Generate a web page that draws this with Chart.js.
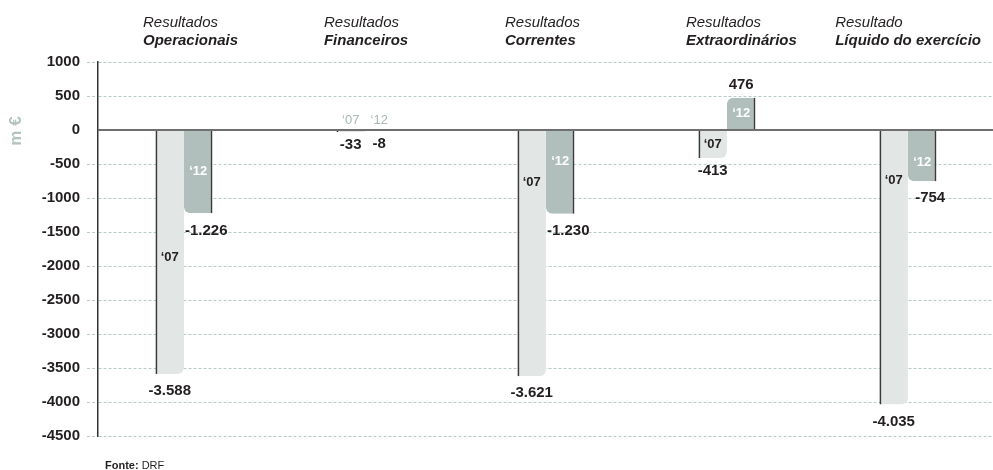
<!DOCTYPE html>
<html>
<head>
<meta charset="utf-8">
<script src="https://cdn.jsdelivr.net/npm/chart.js@4.4.0/dist/chart.umd.min.js"></script>
<style>
  html, body { margin: 0; padding: 0; background: #fff; }
  #wrap { position: relative; width: 993px; height: 470px; }
</style>
</head>
<body>
<div id="wrap"><canvas id="resultsChart"></canvas></div>
<script>
// Result lines, 2007 vs 2012 (m €)
const categories = [
    ['Resultados', 'Operacionais'],
    ['Resultados', 'Financeiros'],
    ['Resultados', 'Correntes'],
    ['Resultados', 'Extraordinários'],
    ['Resultado', 'Líquido do exercício']
];
const values2007 = [-3588, -33, -3621, -413, -4035];
const values2012 = [-1226, -8, -1230, 476, -754];
const seriesTags = ['\u201807', '\u201812'];
const yMin = -4500;
const yMax = 1000;
const yStep = 500;

const FONT = '"Liberation Sans", Arial, sans-serif';
const INK = '#231f20';

function fmt(v) {
    const s = Math.abs(v).toString().replace(/\B(?=(\d{3})+(?!\d))/g, '.');
    return (v < 0 ? '-' : '') + s;
}

const series = [values2007, values2012];

// zero line, value labels and year tags on the bars
const barLabels = {
    id: 'barLabels',
    afterDatasetsDraw(chart, args, opts) {
        const { ctx, chartArea, scales: { y } } = chart;
        const zeroY = y.getPixelForValue(0);
        ctx.save();
        ctx.strokeStyle = '#6f6f6f';
        ctx.lineWidth = 2;
        ctx.beginPath();
        ctx.moveTo(chartArea.left, zeroY);
        ctx.lineTo(chartArea.right, zeroY);
        ctx.stroke();

        ctx.textAlign = 'center';
        ctx.textBaseline = 'middle';
        series.forEach((vals, di) => {
            chart.getDatasetMeta(di).data.forEach((bar, i) => {
                const v = vals[i];
                const h = Math.abs(bar.y - bar.base);

                ctx.font = 'bold 15px ' + FONT;
                ctx.fillStyle = INK;
                const lx = bar.x + (v < 0 && h > 40 && di === 1 ? 8 : 0);
                const ly = v < 0 ? bar.y + (h > 40 ? 17 : 13) : bar.y - 13;
                ctx.fillText(fmt(v), lx, ly);

                if (h < 12) {
                    ctx.font = '13px ' + FONT;
                    ctx.fillStyle = '#a9b9b5';
                    ctx.fillText(seriesTags[di], bar.x, zeroY - 10);
                } else {
                    const at = opts.tagAt[di][i];
                    const ty = at == null ? (bar.y + bar.base) / 2 : y.getPixelForValue(at);
                    ctx.font = 'bold 13px ' + FONT;
                    ctx.fillStyle = di === 0 ? INK : '#ffffff';
                    ctx.fillText(seriesTags[di], bar.x, ty);
                }
            });
        });
        ctx.restore();
    }
};

// category headings, unit label and source line
const chrome = {
    id: 'chrome',
    afterDraw(chart) {
        const { ctx, width, scales: { x } } = chart;
        ctx.save();
        ctx.textBaseline = 'alphabetic';
        ctx.textAlign = 'left';
        categories.forEach((lines, i) => {
            ctx.font = 'italic 15px ' + FONT;
            const w1 = ctx.measureText(lines[0]).width;
            ctx.font = 'italic bold 15px ' + FONT;
            const w2 = ctx.measureText(lines[1]).width;
            const left = Math.min(x.getPixelForValue(i) - 41, width - 12 - Math.max(w1, w2));
            ctx.fillStyle = INK;
            ctx.font = 'italic 15px ' + FONT;
            ctx.fillText(lines[0], left, 27);
            ctx.font = 'italic bold 15px ' + FONT;
            ctx.fillText(lines[1], left, 45);
        });

        ctx.save();
        ctx.translate(16, 131);
        ctx.rotate(-Math.PI / 2);
        ctx.textAlign = 'center';
        ctx.textBaseline = 'middle';
        ctx.font = 'bold 17px ' + FONT;
        ctx.fillStyle = '#b3c2be';
        ctx.fillText('m €', 0, 0);
        ctx.restore();

        ctx.font = 'bold 11px ' + FONT;
        ctx.fillStyle = INK;
        ctx.fillText('Fonte:', 105, 469);
        const fw = ctx.measureText('Fonte: ').width;
        ctx.font = '11px ' + FONT;
        ctx.fillText('DRF', 105 + fw, 469);
        ctx.restore();
    }
};

new Chart(document.getElementById('resultsChart'), {
    type: 'bar',
    data: {
        datasets: [{
            label: '2007',
            data: values2007.map((v, i) => ({ x: i, y: v })),
            backgroundColor: '#e2e6e4',
            borderColor: '#3a3a3a',
            borderWidth: { left: 2 },
            borderSkipped: false,
            borderRadius: ctx => ctx.parsed.y < 0 ? { bottomRight: 6 } : { topRight: 6 }
        }, {
            label: '2012',
            data: values2012.map((v, i) => ({ x: i, y: v })),
            backgroundColor: '#b0bfbb',
            borderColor: '#3a3a3a',
            borderWidth: { right: 2 },
            borderSkipped: false,
            borderRadius: ctx => ctx.parsed.y < 0 ? { bottomLeft: 6 } : { topLeft: 6 }
        }]
    },
    options: {
        responsive: true,
        maintainAspectRatio: false,
        animation: false,
        events: [],
        layout: { padding: { top: 62, bottom: 34, left: 0, right: 0 } },
        datasets: {
            bar: { categoryPercentage: 0.315, barPercentage: 1 }
        },
        scales: {
            x: {
                type: 'linear',
                display: false,
                offset: false,
                min: -0.475,
                max: 4.47,
                // one tick per category so bar widths follow the category spacing
                afterBuildTicks: scale => {
                    scale.ticks = categories.map((c, i) => ({ value: i }));
                }
            },
            y: {
                min: yMin,
                max: yMax,
                afterFit: scale => { scale.width = 98; },
                ticks: {
                    stepSize: yStep,
                    padding: 7,
                    color: INK,
                    font: { family: FONT, size: 15, weight: 'bold' },
                    callback: v => String(v)
                },
                grid: {
                    color: c => c.tick && c.tick.value === 0 ? 'rgba(0,0,0,0)' : '#b9cbc6',
                    tickBorderDash: [3, 2],
                    tickLength: 11,
                    lineWidth: 1
                },
                border: { display: true, color: '#333333', width: 1.5, dash: [3, 2] }
            }
        },
        plugins: {
            legend: { display: false },
            tooltip: { enabled: false },
            barLabels: {
                tagAt: [
                    [-1880, null, -765, null, -735],
                    [-615, null, -455, null, -470]
                ]
            }
        }
    },
    plugins: [barLabels, chrome]
});
</script>
</body>
</html>
